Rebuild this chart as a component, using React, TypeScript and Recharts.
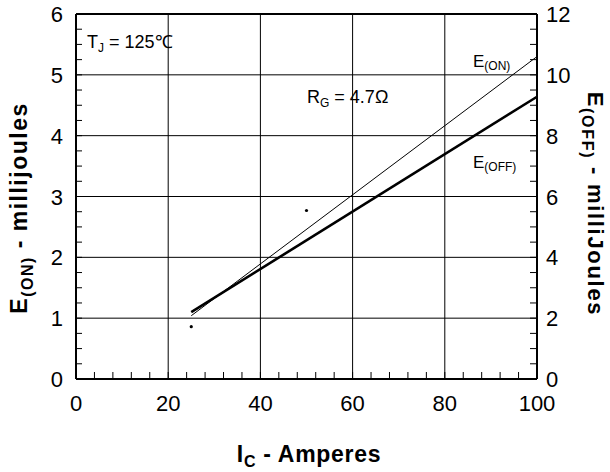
import React from 'react';
import {
  ComposedChart,
  Line,
  Scatter,
  XAxis,
  YAxis,
  ReferenceLine,
  Customized,
} from 'recharts';

const FONT = '"Liberation Sans", Arial, Helvetica, sans-serif';

// X axis (I_C, Amperes)
const currentTicks = [0, 4, 8, 12, 16, 20, 24, 28, 32, 36, 40, 44, 48, 52, 56, 60, 64, 68, 72, 76, 80, 84, 88, 92, 96, 100];
const currentLabels = [0, 20, 40, 60, 80, 100];
const currentGrid = [20, 40, 60, 80];

// Left axis (E(ON), millijoules)
const eonTicks = [0, 0.25, 0.5, 0.75, 1, 1.25, 1.5, 1.75, 2, 2.25, 2.5, 2.75, 3, 3.25, 3.5, 3.75, 4, 4.25, 4.5, 4.75, 5, 5.25, 5.5, 5.75, 6];
const eonLabels = [0, 1, 2, 3, 4, 5, 6];
const eonGrid = [1, 2, 3, 4, 5];

// Right axis (E(OFF), millijoules)
const eoffTicks = [0, 0.5, 1, 1.5, 2, 2.5, 3, 3.5, 4, 4.5, 5, 5.5, 6, 6.5, 7, 7.5, 8, 8.5, 9, 9.5, 10, 10.5, 11, 11.5, 12];
const eoffLabels = [0, 2, 4, 6, 8, 10, 12];

// Series
const eOnSeries = [
  { x: 25, y: 1.04 },
  { x: 100, y: 5.3 },
];
const eOffSeries = [
  { x: 25, y: 2.2 },
  { x: 100, y: 9.28 },
];
const strayPoints = [
  { x: 25, y: 0.86 },
  { x: 50, y: 2.77 },
];

const XTick = (props: any) => {
  const { x, y, payload } = props;
  const v = payload.value;
  return (
    <g>
      <line x1={x} y1={y} x2={x} y2={y - 7} stroke="#000" strokeWidth={1} />
      {currentLabels.includes(v) && (
        <text x={x} y={y + 32} textAnchor="middle" fontSize={22} fontFamily={FONT} fill="#000">
          {v}
        </text>
      )}
    </g>
  );
};

const LeftTick = (props: any) => {
  const { x, y, payload } = props;
  const v = payload.value;
  return (
    <g>
      <line x1={x} y1={y} x2={x + 6} y2={y} stroke="#000" strokeWidth={1} />
      {eonLabels.includes(v) && (
        <text x={x - 13} y={y + 8} textAnchor="end" fontSize={22} fontFamily={FONT} fill="#000">
          {v}
        </text>
      )}
    </g>
  );
};

const RightTick = (props: any) => {
  const { x, y, payload } = props;
  const v = payload.value;
  return (
    <g>
      <line x1={x} y1={y} x2={x - 7} y2={y} stroke="#000" strokeWidth={1} />
      {eoffLabels.includes(v) && (
        <text x={x + 9} y={y + 8} textAnchor="start" fontSize={22} fontFamily={FONT} fill="#000">
          {v}
        </text>
      )}
    </g>
  );
};

const Annotations = () => (
  <g fontFamily={FONT} fill="#000" style={{ whiteSpace: 'pre' }}>
    <rect x={82} y={22} width={92} height={40} fill="#fff" />
    <text x={87} y={48} fontSize={18}>
      T<tspan fontSize={12} dy={4}>J</tspan>
      <tspan dy={-4}>{' = 125\u2103'}</tspan>
    </text>

    <rect x={303} y={83} width={108} height={30} fill="#fff" />
    <text x={307} y={103} fontSize={18}>
      R<tspan fontSize={12} dy={4}>G</tspan>
      <tspan dy={-4}>{' = 4.7\u03A9'}</tspan>
    </text>

    <text x={473} y={67} fontSize={17}>
      E<tspan fontSize={12} dy={3}>(ON)</tspan>
    </text>
    <text x={473} y={168} fontSize={17}>
      E<tspan fontSize={12} dy={3}>(OFF)</tspan>
    </text>

    <text
      x={27}
      y={208}
      transform="rotate(-90, 27, 208)"
      textAnchor="middle"
      fontSize={23}
      fontWeight="bold"
      letterSpacing={1.5}
    >
      E<tspan fontSize={16} dy={6}>(ON)</tspan>
      <tspan dy={-6}>{' - millijoules'}</tspan>
    </text>

    <text
      x={588}
      y={204}
      transform="rotate(90, 588, 204)"
      textAnchor="middle"
      fontSize={22}
      fontWeight="bold"
      letterSpacing={1.7}
    >
      E<tspan fontSize={16} dy={6}>(OFF)</tspan>
      <tspan dy={-6}>{' - milliJoules'}</tspan>
    </text>

    <text x={309} y={462} textAnchor="middle" fontSize={23} fontWeight="bold" letterSpacing={0.7}>
      I<tspan fontSize={16} dy={5}>C</tspan>
      <tspan dy={-5}>{' - Amperes'}</tspan>
    </text>
  </g>
);

export default function App() {
  return (
    <div style={{ position: 'absolute', left: 0, top: 0, background: '#fff' }}>
      <ComposedChart
        width={610}
        height={472}
        margin={{ top: 14, right: 0, bottom: 0, left: 0 }}
        style={{ background: '#fff' }}
      >
        <XAxis
          xAxisId="x"
          dataKey="x"
          type="number"
          domain={[0, 100]}
          ticks={currentTicks}
          interval={0}
          height={93}
          tickSize={0}
          tickMargin={0}
          tickLine={false}
          axisLine={{ stroke: '#000', strokeWidth: 2 }}
          tick={<XTick />}
        />
        <YAxis
          yAxisId="left"
          orientation="left"
          dataKey="y"
          type="number"
          domain={[0, 6]}
          ticks={eonTicks}
          interval={0}
          width={76}
          tickSize={0}
          tickMargin={0}
          tickLine={false}
          axisLine={{ stroke: '#000', strokeWidth: 2 }}
          tick={<LeftTick />}
        />
        <YAxis
          yAxisId="right"
          orientation="right"
          dataKey="y"
          type="number"
          domain={[0, 12]}
          ticks={eoffTicks}
          interval={0}
          width={73}
          tickSize={0}
          tickMargin={0}
          tickLine={false}
          axisLine={{ stroke: '#000', strokeWidth: 2 }}
          tick={<RightTick />}
        />

        {currentGrid.map((v) => (
          <ReferenceLine key={'gx' + v} xAxisId="x" yAxisId="left" x={v} stroke="#000" strokeWidth={1} />
        ))}
        {eonGrid.map((v) => (
          <ReferenceLine key={'gy' + v} xAxisId="x" yAxisId="left" y={v} stroke="#000" strokeWidth={1} />
        ))}
        <ReferenceLine xAxisId="x" yAxisId="left" y={6} stroke="#000" strokeWidth={2} />

        <Line
          xAxisId="x"
          yAxisId="left"
          data={eOnSeries}
          dataKey="y"
          type="linear"
          stroke="#000"
          strokeWidth={1}
          dot={false}
          activeDot={false}
          isAnimationActive={false}
        />
        <Line
          xAxisId="x"
          yAxisId="right"
          data={eOffSeries}
          dataKey="y"
          type="linear"
          stroke="#000"
          strokeWidth={2.6}
          dot={false}
          activeDot={false}
          isAnimationActive={false}
        />
        <Scatter
          xAxisId="x"
          yAxisId="left"
          data={strayPoints}
          dataKey="y"
          fill="#000"
          isAnimationActive={false}
          shape={(p: any) => <circle cx={p.cx} cy={p.cy} r={1.6} fill="#000" />}
        />
        <Customized component={Annotations} />
      </ComposedChart>
    </div>
  );
}
